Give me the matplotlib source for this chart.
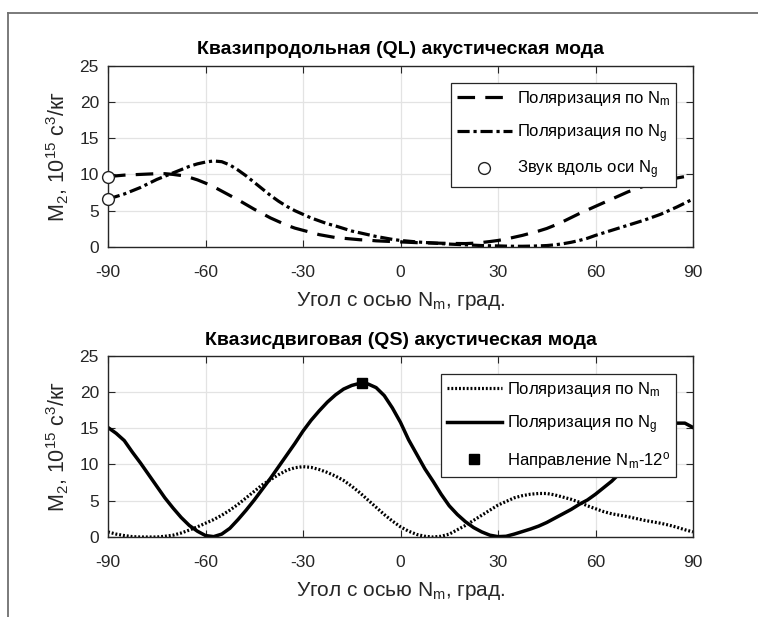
import matplotlib
matplotlib.use("Agg")
import matplotlib.pyplot as plt
from matplotlib.lines import Line2D

plt.rcParams['font.family'] = ['Liberation Sans', 'DejaVu Sans']
plt.rcParams['mathtext.default'] = 'regular'

angles = [-90 + 2.5 * i for i in range(73)]

ql_nm = [9.7, 9.8, 9.9, 9.95, 10.0, 10.05, 10.1, 10.1, 10.0, 9.85, 9.6, 9.25, 8.8, 8.3,
         7.7, 7.1, 6.5, 5.85, 5.2, 4.6, 4.0, 3.5, 3.0, 2.6, 2.3, 2.0, 1.7, 1.5, 1.3, 1.2,
         1.1, 1.0, 0.95, 0.85, 0.8, 0.75, 0.7, 0.65, 0.6, 0.58, 0.55, 0.52, 0.5, 0.48,
         0.47, 0.52, 0.62, 0.75, 0.9, 1.1, 1.35, 1.6, 1.9, 2.2, 2.55, 3.0, 3.5, 4.05, 4.6,
         5.1, 5.6, 6.1, 6.6, 7.1, 7.6, 8.0, 8.4, 8.7, 9.0, 9.25, 9.5, 9.7, 9.9]
ql_ng = [6.6, 6.95, 7.3, 7.75, 8.2, 8.75, 9.3, 9.75, 10.2, 10.65, 11.1, 11.45, 11.7,
         11.85, 11.75, 11.3, 10.6, 9.8, 8.9, 8.0, 7.1, 6.3, 5.6, 5.0, 4.5, 4.0, 3.6, 3.2,
         2.9, 2.55, 2.2, 1.95, 1.7, 1.45, 1.25, 1.05, 0.9, 0.8, 0.7, 0.62, 0.55, 0.47, 0.4,
         0.35, 0.3, 0.25, 0.2, 0.17, 0.15, 0.12, 0.1, 0.1, 0.12, 0.15, 0.2, 0.3, 0.45,
         0.65, 0.9, 1.2, 1.6, 1.95, 2.3, 2.65, 3.0, 3.35, 3.7, 4.1, 4.5, 5.0, 5.5, 6.05, 6.6]
ql_marker_x = [-90, -90]
ql_marker_y = [9.7, 6.6]

qs_nm = [0.7, 0.4, 0.2, 0.05, 0.0, 0.0, 0.0, 0.1, 0.25, 0.55, 0.95, 1.4, 1.9, 2.4, 3.0,
         3.7, 4.5, 5.4, 6.3, 7.2, 7.9, 8.6, 9.2, 9.55, 9.7, 9.6, 9.3, 8.9, 8.4, 7.8, 7.0,
         6.1, 5.1, 4.1, 3.1, 2.2, 1.4, 0.8, 0.35, 0.1, 0.0, 0.1, 0.4, 1.0, 1.6, 2.3, 3.0,
         3.7, 4.4, 4.9, 5.4, 5.7, 5.9, 6.0, 6.0, 5.8, 5.5, 5.2, 4.8, 4.3, 3.9, 3.5, 3.2,
         3.0, 2.8, 2.55, 2.3, 2.1, 1.9, 1.65, 1.35, 1.0, 0.7]
qs_ng = [15.1, 14.3, 13.3, 11.7, 10.2, 8.6, 7.0, 5.4, 4.0, 2.7, 1.6, 0.8, 0.2, 0.05, 0.4,
         1.2, 2.4, 3.7, 5.1, 6.6, 8.1, 9.7, 11.3, 12.9, 14.6, 16.1, 17.4, 18.6, 19.6, 20.4,
         20.9, 21.2, 21.1, 20.6, 19.5, 17.8, 15.8, 13.4, 11.4, 9.4, 7.7, 5.9, 4.3, 3.1, 2.1,
         1.3, 0.7, 0.25, 0.05, 0.1, 0.4, 0.75, 1.1, 1.5, 2.0, 2.6, 3.2, 3.8, 4.5, 5.1, 5.9,
         6.8, 7.7, 8.8, 9.9, 11.1, 12.3, 13.4, 14.4, 15.2, 15.7, 15.7, 15.1]
qs_marker_x = [-12]
qs_marker_y = [21.2]

xticks = [-90, -60, -30, 0, 30, 60, 90]
yticks = [0, 5, 10, 15, 20, 25]

title_ql = "Квазипродольная (QL) акустическая мода"
title_qs = "Квазисдвиговая (QS) акустическая мода"
xlabel = "Угол с осью N$_m$, град."
ylabel = "M$_2$, 10$^{15}$ с$^3$/кг"

W, H = 758, 617
fig = plt.figure(figsize=(W / 100, H / 100), dpi=100)

# figure frame (partially visible)
fig.add_artist(Line2D([8.3 / W, 8.3 / W], [0, 1 - 12.7 / H], transform=fig.transFigure,
                      color='#707070', lw=1.3))
fig.add_artist(Line2D([8.3 / W, 1], [1 - 12.7 / H, 1 - 12.7 / H], transform=fig.transFigure,
                      color='#707070', lw=1.3))

ax1 = fig.add_axes([108 / W, 1 - 247 / H, 585 / W, 181.5 / H])
ax2 = fig.add_axes([108 / W, 1 - 537 / H, 585 / W, 181.3 / H])

lw = 2.3
ax1.plot(angles, ql_nm, color='black', lw=lw, linestyle=(0, (5.5, 3.2)),
         label="Поляризация по N$_m$")
ax1.plot(angles, ql_ng, color='black', lw=lw, linestyle=(0, (3.8, 1.2, 1.0, 1.2)),
         label="Поляризация по N$_g$")
ax1.plot(ql_marker_x, ql_marker_y, linestyle='none', marker='o', ms=8.5,
         mfc='white', mec='#222222', mew=1.0, clip_on=False, zorder=5,
         label="Звук вдоль оси N$_g$")

ax2.plot(angles, qs_nm, color='black', lw=lw, linestyle=(0, (0.6, 0.6)),
         label="Поляризация по N$_m$")
ax2.plot(angles, qs_ng, color='black', lw=lw + 0.2, linestyle='-',
         label="Поляризация по N$_g$")
ax2.plot(qs_marker_x, qs_marker_y, linestyle='none', marker='s', ms=7,
         mfc='black', mec='black', clip_on=False, zorder=5,
         label="Направление N$_m$-12$^o$")

for ax, title, anchor in ((ax1, title_ql, (0.971, 0.904)), (ax2, title_qs, (0.971, 0.899))):
    ax.set_xlim(-90, 90)
    ax.set_ylim(0, 25)
    ax.set_xticks(xticks)
    ax.set_yticks(yticks)
    ax.set_xticklabels([str(v) for v in xticks])
    ax.set_yticklabels([str(v) for v in yticks])
    ax.grid(True, color='#e3e3e3', lw=0.9)
    ax.set_axisbelow(True)
    ax.tick_params(direction='in', length=5, width=0.8, top=True, right=True,
                   labelsize=12.5, colors='#262626')
    ax.tick_params(axis='x', pad=13)
    ax.tick_params(axis='y', pad=6.5)
    for s in ax.spines.values():
        s.set_color('#262626')
        s.set_linewidth(1.0)
    ax.set_title(title, fontsize=14, fontweight='bold', pad=8)
    ax.set_xlabel(xlabel, fontsize=15, color='#262626', labelpad=7)
    ax.set_ylabel(ylabel, fontsize=15.5, color='#262626', labelpad=6)
    leg = ax.legend(loc='upper right', bbox_to_anchor=anchor, fontsize=12,
                    handlelength=3.3, handletextpad=0.3, borderpad=0.35,
                    labelspacing=0.85, frameon=True, fancybox=False, framealpha=1,
                    edgecolor='#262626', borderaxespad=0)
    leg.get_frame().set_linewidth(0.9)

fig.savefig("out.png", dpi=100)
